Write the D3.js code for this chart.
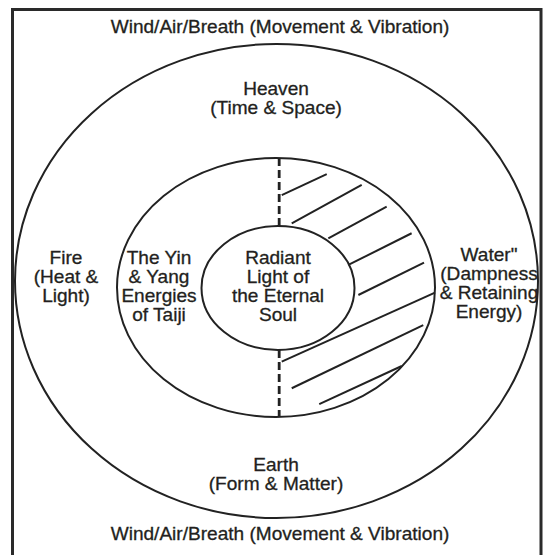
<!DOCTYPE html>
<html>
<head>
<meta charset="utf-8">
<script src="https://cdn.jsdelivr.net/npm/d3@7"></script>
<style>
    html, body { margin: 0; padding: 0; background: #fff; }
    svg { display: block; }
    .label {
        font-family: "Liberation Sans", Arial, Helvetica, sans-serif;
        font-size: 18px;
        fill: #231f20;
        stroke: #231f20;
        stroke-width: 0.3px;
    }
</style>
</head>
<body>
<div id="chart"></div>
<script>
// text for each region of the diagram
const windLabel = 'Wind/Air/Breath (Movement & Vibration)';
const heavenLines = ['Heaven', '(Time & Space)'];
const earthLines = ['Earth', '(Form & Matter)'];
const fireLines = ['Fire', '(Heat &', 'Light)'];
const waterLines = ['Water"', '(Dampness', '& Retaining', 'Energy)'];
const taijiLines = ['The Yin', '& Yang', 'Energies', 'of Taiji'];
const soulLines = ['Radiant', 'Light of', 'the Eternal', 'Soul'];

// hatch strokes on the right half, in units of the middle ring (centre 0,0 / radius 1)
const hatchStart = [[0.036, -0.714], [0.099, -0.496], [0.329, -0.380], [0.455, -0.174],
                    [0.518, 0.058], [0.036, 0.573], [0.099, 0.778], [0.272, 0.900]];
const hatchEnd = [[0.319, -0.876], [0.539, -0.792], [0.696, -0.624], [0.853, -0.419],
                  [0.931, -0.192], [1.0, 0.040], [0.926, 0.290], [0.791, 0.606]];

const width = 550, height = 555;
const ink = '#222';

// ring geometry
const outer = { cx: 276.5, cy: 281, rx: 261.5, ry: 237 };
const middle = { cx: 276, cy: 287.5, rx: 159, ry: 129.5 };
const inner = { cx: 278, cy: 288, rx: 76.5, ry: 62 };

const x = d3.scaleLinear().domain([-1, 1]).range([middle.cx - middle.rx, middle.cx + middle.rx]);
const y = d3.scaleLinear().domain([-1, 1]).range([middle.cy - middle.ry, middle.cy + middle.ry]);

const svg = d3.select('#chart')
    .append('svg')
    .attr('width', width)
    .attr('height', height);

// frame (runs off the bottom edge like the scan)
svg.append('rect')
    .attr('x', 12.5)
    .attr('y', 9.5)
    .attr('width', 528.5)
    .attr('height', 560)
    .attr('fill', 'none')
    .attr('stroke', '#2a2a2a')
    .attr('stroke-width', 3);

svg.selectAll('ellipse.ring')
    .data([outer, middle, inner])
    .join('ellipse')
    .attr('class', 'ring')
    .attr('cx', d => d.cx)
    .attr('cy', d => d.cy)
    .attr('rx', d => d.rx)
    .attr('ry', d => d.ry)
    .attr('fill', 'none')
    .attr('stroke', ink)
    .attr('stroke-width', 2);

// dashed divider between yin and yang halves
const innerTop = (inner.cy - inner.ry - middle.cy) / middle.ry;
const innerBottom = (inner.cy + inner.ry - middle.cy) / middle.ry;
const dashX = 0.02;
svg.selectAll('line.divider')
    .data([[-1, innerTop], [innerBottom, 1]])
    .join('line')
    .attr('class', 'divider')
    .attr('x1', x(dashX))
    .attr('x2', x(dashX))
    .attr('y1', d => y(d[0]))
    .attr('y2', d => y(d[1]))
    .attr('stroke', ink)
    .attr('stroke-width', 2.8)
    .attr('stroke-dasharray', '8,4');

svg.selectAll('line.hatch')
    .data(d3.zip(hatchStart, hatchEnd))
    .join('line')
    .attr('class', 'hatch')
    .attr('x1', d => x(d[0][0]))
    .attr('y1', d => y(d[0][1]))
    .attr('x2', d => x(d[1][0]))
    .attr('y2', d => y(d[1][1]))
    .attr('stroke', ink)
    .attr('stroke-width', 2);

// labels: [lines, centre x, first baseline]
const labels = [
    [[windLabel], 280, 33],
    [heavenLines, 276, 95],
    [fireLines, 66, 264],
    [taijiLines, 159, 264],
    [soulLines, 278, 264],
    [waterLines, 489, 261],
    [earthLines, 276, 471],
    [[windLabel], 280, 540]
];
const lineGap = 19;

const groups = svg.selectAll('g.block')
    .data(labels)
    .join('g')
    .attr('class', 'block')
    .attr('transform', d => `translate(${d[1]},${d[2]}) scale(1.06,1)`);

groups.selectAll('text')
    .data(d => d[0])
    .join('text')
    .attr('class', 'label')
    .attr('text-anchor', 'middle')
    .attr('y', (d, i) => i * lineGap)
    .text(d => d);
</script>
</body>
</html>
